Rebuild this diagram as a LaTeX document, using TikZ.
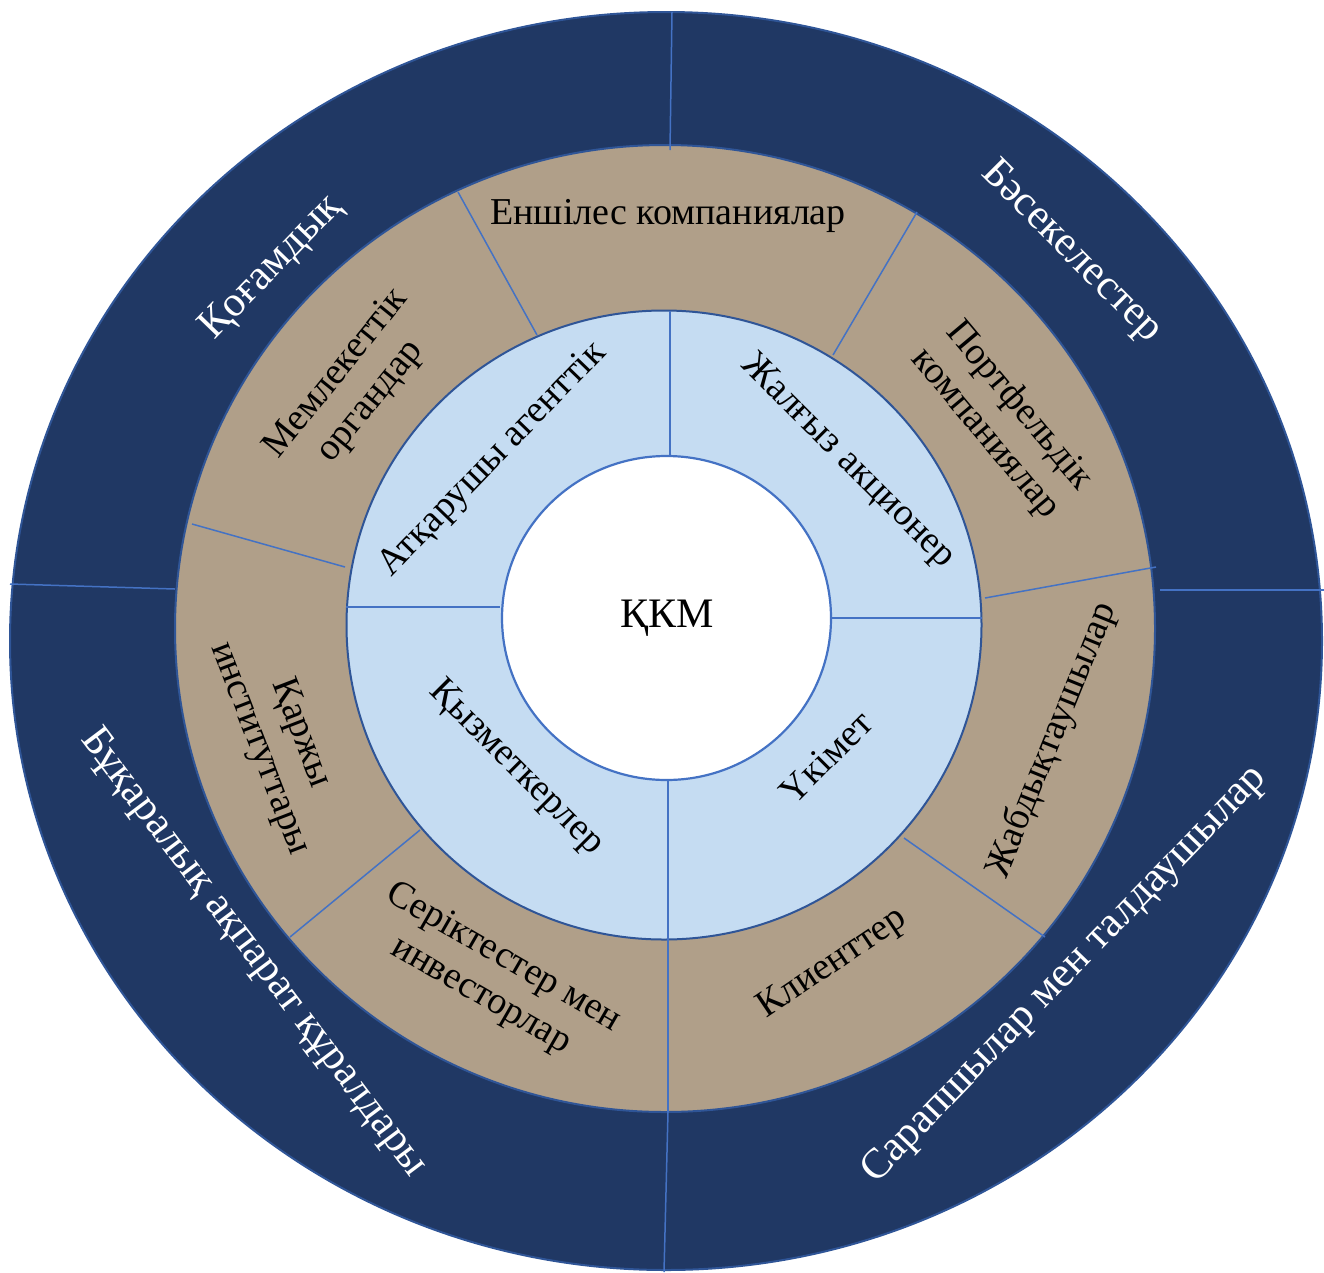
\documentclass[tikz,border=0pt]{standalone}
\usepackage{fontspec}
\setmainfont{Liberation Serif}
\definecolor{navy}{HTML}{203864}
\definecolor{tan}{HTML}{B09F89}
\definecolor{lightblue}{HTML}{C5DCF2}
\definecolor{rimblue}{HTML}{2F5597}
\definecolor{divblue}{HTML}{4472C4}
\begin{document}
\begin{tikzpicture}[x=1pt,y=-1pt,
  ring/.style={draw=rimblue, line width=2pt},
  divider/.style={draw=divblue, line width=1.5pt},
  dark/.style={font=\fontsize{38}{44}\selectfont, text=black, align=center, inner sep=0pt},
  light/.style={font=\fontsize{42.5}{48}\selectfont, text=white, align=center, inner sep=0pt}]
\useasboundingbox (0,0) rectangle (1324,1272);
\begin{scope}
\clip (0,0) rectangle (1324,1272);
% rings
\path[ring, fill=navy] (666,641) ellipse [x radius=656pt, y radius=629pt];
\path[ring, fill=tan] (665,628.5) ellipse [x radius=490pt, y radius=483.5pt];
\path[ring, fill=lightblue] (664,625) ellipse [x radius=317.5pt, y radius=314.5pt];
\path[draw=divblue, line width=2.2pt, fill=white] (666.5,618) ellipse [x radius=164.5pt, y radius=162pt];
% outer ring dividers
\coordinate (o1a) at (672,12);   \coordinate (o1b) at (670,150);
\coordinate (o2a) at (10,584);   \coordinate (o2b) at (175,589);
\coordinate (o3a) at (1160,590); \coordinate (o3b) at (1324,590);
\coordinate (o4a) at (668,1112); \coordinate (o4b) at (664,1272);
\draw[divider] (o1a) -- (o1b);
\draw[divider] (o2a) -- (o2b);
\draw[divider] (o3a) -- (o3b);
\draw[divider] (o4a) -- (o4b);
% middle ring dividers
\coordinate (m1a) at (458,192);  \coordinate (m1b) at (537,335);
\coordinate (m2a) at (917,212);  \coordinate (m2b) at (833,355);
\coordinate (m3a) at (192,524);  \coordinate (m3b) at (345,567);
\coordinate (m4a) at (985,598);  \coordinate (m4b) at (1156,567);
\coordinate (m5a) at (420,830);  \coordinate (m5b) at (290,937);
\coordinate (m6a) at (904,838);  \coordinate (m6b) at (1045,937);
\coordinate (m7a) at (668,940);  \coordinate (m7b) at (668,1112);
\foreach \i in {1,...,7}{\draw[divider] (m\i a) -- (m\i b);}
% inner ring dividers
\coordinate (i1a) at (670,311);  \coordinate (i1b) at (670,456);
\coordinate (i2a) at (831,618);  \coordinate (i2b) at (982,618);
\coordinate (i3a) at (668,780);  \coordinate (i3b) at (668,940);
\coordinate (i4a) at (346,607);  \coordinate (i4b) at (500,607);
\foreach \i in {1,...,4}{\draw[divider] (i\i a) -- (i\i b);}
\end{scope}
% centre
\node[dark, font=\fontsize{42}{48}\selectfont] (kkm) at (667,618) {ҚКМ};
% inner ring labels
\node[dark, rotate=46] (atk) at (493,460) {Атқарушы агенттік};
\node[dark, rotate=-45] (zhal) at (848,462) {Жалғыз акционер};
\node[dark, rotate=45] (uk) at (826,757) {Үкімет};
\node[dark, rotate=-45] (kyz) at (516,768) {Қызметкерлер};
% middle ring labels
\node[dark] (ensh) at (668,216) {Еншілес компаниялар};
\node[dark, rotate=-50] (port) at (1002,420) {Портфельдік\\компаниялар};
\node[dark, rotate=68] (zhab) at (1052,740) {Жабдықтаушылар};
\node[dark, rotate=34] (kli) at (833,964) {Клиенттер};
\node[dark, rotate=-30] (ser) at (492,977) {Серіктестер мен\\инвесторлар};
\node[dark, rotate=-69] (karzh) at (280,741) {Қаржы\\институттары};
\node[dark, rotate=51] (mem) at (354,388) {Мемлекеттік\\органдар};
% outer ring labels
\node[light, rotate=46] (kog) at (272,268) {Қоғамдық};
\node[light, rotate=-45] (bas) at (1071,252) {Бәсекелестер};
\node[light, rotate=-53] (buk) at (253,953) {Бұқаралық ақпарат құралдары};
\node[light, rotate=46] (sar) at (1065,975) {Сарапшылар мен талдаушылар};
\end{tikzpicture}
\end{document}
